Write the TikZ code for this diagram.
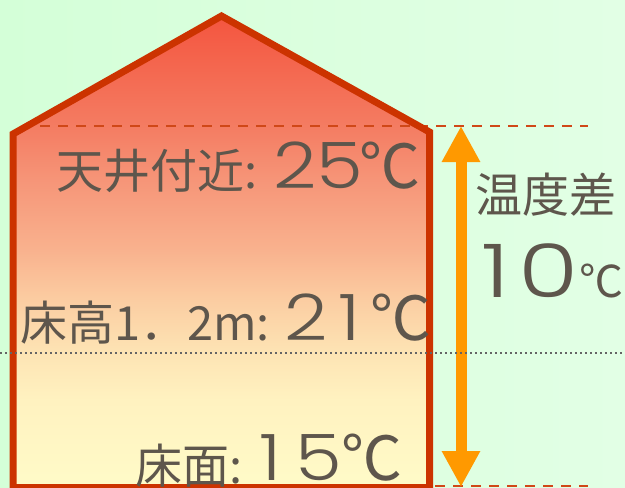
\documentclass[tikz,border=0pt]{standalone}
\usepackage{fontspec}
\usetikzlibrary{arrows.meta}
\newfontfamily\jp{Noto Sans CJK JP}
\newfontfamily\jpnum[FakeStretch=1.18]{Poppins Light}
\newfontfamily\jpbignum[FakeStretch=1.32]{Poppins Light}
\definecolor{bgL}{RGB}{212,255,216}
\definecolor{bgR}{RGB}{226,255,229}
\definecolor{wallc}{RGB}{204,51,0}
\definecolor{dashc}{RGB}{208,72,24}
\definecolor{arrc}{RGB}{255,153,0}
\definecolor{txtc}{RGB}{94,86,76}
\definecolor{dotc}{RGB}{100,100,100}
\definecolor{h0}{RGB}{255,251,200}
\definecolor{h1}{RGB}{255,242,192}
\definecolor{h2}{RGB}{253,228,180}
\definecolor{h3}{RGB}{251,205,162}
\definecolor{h4}{RGB}{249,178,142}
\definecolor{h5}{RGB}{246,149,120}
\definecolor{h6}{RGB}{244,124,98}
\definecolor{h7}{RGB}{244,85,63}
\pgfdeclareverticalshading{houseshade}{100bp}{color(0bp)=(h0); color(25bp)=(h0); color(34.25bp)=(h1); color(39.25bp)=(h2); color(44.85bp)=(h3); color(50.15bp)=(h4); color(57.6bp)=(h5); color(63.3bp)=(h6); color(75bp)=(h7); color(100bp)=(h7)}
\tikzset{
  small/.style={inner sep=0pt, text=txtc, font=\jp\fontsize{47}{47}\selectfont},
  big/.style={inner sep=0pt, text=txtc, font=\jpnum\fontsize{64}{64}\selectfont},
  bigc/.style={inner sep=0pt, text=txtc, font=\jp\fontsize{61}{61}\selectfont},
  dashln/.style={draw=dashc, line width=2.6pt, dash pattern=on 10pt off 8pt},
  dotln/.style={draw=dotc, line width=2pt, dash pattern=on 2pt off 3pt},
  wall/.style={draw=wallc, line width=7pt, line join=miter},
}
\begin{document}
\begin{tikzpicture}[x=1pt,y=-1pt]
\useasboundingbox (0,0) rectangle (625,488);
\shade[left color=bgL, right color=bgR] (0,0) rectangle (625,488);
% house
\coordinate (hbl) at (13,487.5);
\coordinate (hl) at (13,134);
\coordinate (ha) at (221.5,16);
\coordinate (hr) at (429.5,132);
\coordinate (hbr) at (429.5,487.5);
\shade[shading=houseshade] (hbl) -- (hl) -- (ha) -- (hr) -- (hbr) -- cycle;
% top dashed line
\coordinate (d1a) at (40,126);
\coordinate (d1b) at (588,126);
\draw[dashln] (d1a) -- (d1b);
\draw[wall] (hbl) -- (hl) -- (ha) -- (hr) -- (hbr) -- cycle;
% bottom dashed
\coordinate (d2a) at (435,486);
\coordinate (d2b) at (588,486);
\draw[dashln] (d2a) -- (d2b);
% arrow
\coordinate (at) at (461,126);
\coordinate (ab) at (461,487);
\draw[arrc, line width=11pt, {Triangle[length=36pt,width=36pt]}-{Triangle[length=36pt,width=36pt]}] (at) -- (ab);
% texts
\node[small, anchor=base west] (l1a) at (56,188) {天井付近:};
\node[big, anchor=base west] (l1n) at (273,188) {25};
\node[bigc, anchor=base east] (l1c) at (421,188) {℃};
\node[small, anchor=base west] (l2a) at (20,340) {床高1．2m:};
\node[big, anchor=base west] (l2n) at (284,340) {2\hspace{11pt}1};
\node[bigc, anchor=base east] (l2c) at (432,340) {℃};
\node[small, anchor=base west] (l3a) at (135,483) {床面:};
\node[big, anchor=base west] (l3n) at (259,480) {1\hspace{14pt}5};
\node[bigc, anchor=base east] (l3c) at (403,480) {℃};
\node[small, anchor=base west] (t1) at (475,212) {温度差};
\node[inner sep=0pt, text=txtc, font=\jpbignum\fontsize{74}{74}\selectfont, anchor=base west] (t2) at (481,297) {1\hspace{9pt}0};
\node[inner sep=0pt, text=txtc, font=\jp\fontsize{44}{44}\selectfont, anchor=base east] (t3) at (624,297) {℃};
% dotted line
\coordinate (p1) at (0,353);
\coordinate (p2) at (625,353);
\draw[dotln] (p1) -- (p2);
\end{tikzpicture}
\end{document}
